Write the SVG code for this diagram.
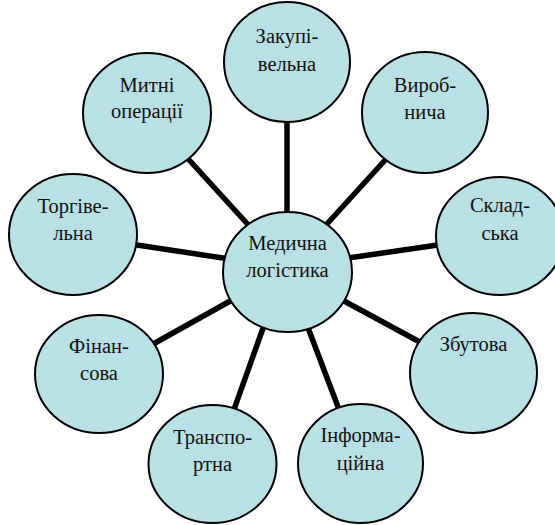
<svg xmlns="http://www.w3.org/2000/svg" width="555" height="525" viewBox="0 0 555 525">
  <rect width="555" height="525" fill="#fff"/>

  <!-- spokes from the hub to each outer node -->
  <g id="connectors" stroke="#000" stroke-width="5.5">
    <line x1="287" y1="112" x2="287" y2="222"/>
    <line x1="392" y1="152.5" x2="321" y2="230.5"/>
    <line x1="448" y1="243.5" x2="338" y2="259.5"/>
    <line x1="333" y1="295" x2="429" y2="347"/>
    <line x1="304.5" y1="318.5" x2="341.5" y2="416"/>
    <line x1="266.5" y1="318.5" x2="231.5" y2="416.5"/>
    <line x1="241" y1="295" x2="146" y2="348"/>
    <line x1="127" y1="243.5" x2="233" y2="259.5"/>
    <line x1="181" y1="151" x2="252" y2="229"/>
  </g>

  <!-- nodes: shared fill/stroke set once on the parent group -->
  <g id="nodes" fill="#b9e0e4" stroke="#000" stroke-width="2">
    <g id="zakupivelna">
      <ellipse cx="287" cy="62" rx="63" ry="60"/>
      <text x="287" y="43" font-family="Liberation Serif" font-size="20.5" fill="#111" stroke="none" text-anchor="middle">Закупі-</text>
      <text x="287" y="71" font-family="Liberation Serif" font-size="20.5" fill="#111" stroke="none" text-anchor="middle">вельна</text>
    </g>
    <g id="vyrobnycha">
      <ellipse cx="425" cy="112.5" rx="63" ry="60.5"/>
      <text x="425" y="92" font-family="Liberation Serif" font-size="20.5" fill="#111" stroke="none" text-anchor="middle">Вироб-</text>
      <text x="425" y="119" font-family="Liberation Serif" font-size="20.5" fill="#111" stroke="none" text-anchor="middle">нича</text>
    </g>
    <g id="skladska">
      <ellipse cx="500" cy="236" rx="64" ry="59"/>
      <text x="500" y="212" font-family="Liberation Serif" font-size="20.5" fill="#111" stroke="none" text-anchor="middle">Склад-</text>
      <text x="500" y="240" font-family="Liberation Serif" font-size="20.5" fill="#111" stroke="none" text-anchor="middle">ська</text>
    </g>
    <g id="zbutova">
      <ellipse cx="473.5" cy="373" rx="63.5" ry="60"/>
      <text x="473.5" y="351" font-family="Liberation Serif" font-size="20.5" fill="#111" stroke="none" text-anchor="middle">Збутова</text>
    </g>
    <g id="informatsiina">
      <ellipse cx="360.5" cy="463.5" rx="62.5" ry="59.5"/>
      <text x="360.5" y="442" font-family="Liberation Serif" font-size="20.5" fill="#111" stroke="none" text-anchor="middle">Інформа-</text>
      <text x="360.5" y="470" font-family="Liberation Serif" font-size="20.5" fill="#111" stroke="none" text-anchor="middle">ційна</text>
    </g>
    <g id="transportna">
      <ellipse cx="212.5" cy="464" rx="64" ry="59"/>
      <text x="212.5" y="444" font-family="Liberation Serif" font-size="20.5" fill="#111" stroke="none" text-anchor="middle">Транспо-</text>
      <text x="212.5" y="471" font-family="Liberation Serif" font-size="20.5" fill="#111" stroke="none" text-anchor="middle">ртна</text>
    </g>
    <g id="finansova">
      <ellipse cx="99" cy="374" rx="64" ry="59"/>
      <text x="99" y="353" font-family="Liberation Serif" font-size="20.5" fill="#111" stroke="none" text-anchor="middle">Фінан-</text>
      <text x="99" y="380" font-family="Liberation Serif" font-size="20.5" fill="#111" stroke="none" text-anchor="middle">сова</text>
    </g>
    <g id="torhivelna">
      <ellipse cx="73" cy="234.5" rx="64" ry="60.5"/>
      <text x="73" y="213" font-family="Liberation Serif" font-size="20.5" fill="#111" stroke="none" text-anchor="middle">Торгіве-</text>
      <text x="73" y="240" font-family="Liberation Serif" font-size="20.5" fill="#111" stroke="none" text-anchor="middle">льна</text>
    </g>
    <g id="mytni-operatsii">
      <ellipse cx="147" cy="113" rx="64" ry="60"/>
      <text x="147" y="92" font-family="Liberation Serif" font-size="20.5" fill="#111" stroke="none" text-anchor="middle">Митні</text>
      <text x="147" y="118" font-family="Liberation Serif" font-size="20.5" fill="#111" stroke="none" text-anchor="middle">операції</text>
    </g>
    <g id="medychna-lohistyka">
      <ellipse cx="287.5" cy="272" rx="64.5" ry="60"/>
      <text x="287.5" y="250" font-family="Liberation Serif" font-size="20.5" fill="#111" stroke="none" text-anchor="middle">Медична</text>
      <text x="287.5" y="277" font-family="Liberation Serif" font-size="20.5" fill="#111" stroke="none" text-anchor="middle">логістика</text>
    </g>
  </g>
</svg>
